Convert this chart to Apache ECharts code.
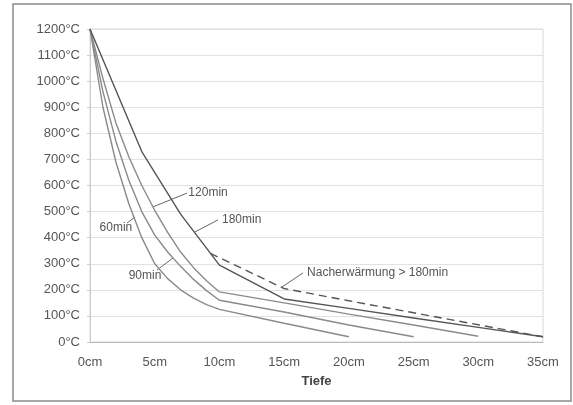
<!DOCTYPE html>
<html>
<head>
<meta charset="utf-8">
<script src="https://cdn.jsdelivr.net/npm/echarts@6/dist/echarts.min.js"></script>
<style>
  html, body { margin: 0; padding: 0; background: #fff; }
  #chart { width: 573px; height: 405px; }
</style>
</head>
<body>
<div id="chart"></div>
<script>
// Tiefe in cm, Temperatur in °C
const depth60 = [0, 1, 2, 3, 4, 5, 6, 7, 8, 9, 10, 15, 20];
const temp60 = [1200, 900, 690, 530, 400, 300, 243, 200, 168, 143, 125, 72, 20];
const depth90 = [0, 1, 2, 3, 4, 5, 6, 7, 8, 9, 10, 15, 20, 25];
const temp90 = [1200, 960, 770, 620, 500, 410, 345, 290, 240, 197, 160, 115, 65, 20];
const depth120 = [0, 1, 2, 3, 4, 5, 6, 7, 8, 9, 10, 15, 20, 25, 30];
const temp120 = [1200, 1010, 840, 710, 600, 505, 420, 345, 285, 235, 192, 150, 107, 65, 22];
const depth180 = [0, 4, 7, 10, 15, 20, 25, 30, 35];
const temp180 = [1200, 730, 490, 295, 165, 129, 92, 56, 20];
const depthNach = [9.3, 15, 20, 25, 30, 35];
const tempNach = [340, 205, 158, 112, 66, 20];

const xTicks = ['0cm', '5cm', '10cm', '15cm', '20cm', '25cm', '30cm', '35cm'];

// Beschriftungen: Text, Textanker [cm, °C], Hinweislinie von/bis
const notes = [
    { text: '60min', at: [2.0, 437], align: 'center', from: [2.86, 456], to: [3.48, 479] },
    { text: '90min', at: [4.25, 253], align: 'center', from: [5.18, 276], to: [6.41, 322] },
    { text: '120min', at: [7.6, 571], align: 'left', from: [7.5, 571], to: [4.87, 518] },
    { text: '180min', at: [10.2, 468], align: 'left', from: [9.89, 468], to: [8.11, 422] },
    { text: 'Nacherwärmung > 180min', at: [16.77, 265], align: 'left', from: [16.46, 265], to: [14.84, 211] }
];

function pairs(xs, ys) {
    return xs.map((x, i) => [x, ys[i]]);
}

const chart = echarts.init(document.getElementById('chart'));

function lineSeries(name, xs, ys, color, dashed) {
    return {
        name: name,
        type: 'line',
        data: pairs(xs, ys),
        symbol: 'none',
        smooth: false,
        silent: true,
        lineStyle: {
            color: color,
            width: 1.4,
            type: dashed ? [8, 5] : 'solid'
        }
    };
}

chart.setOption({
    animation: false,
    backgroundColor: '#fff',
    textStyle: { fontFamily: 'Liberation Sans, Arial, sans-serif' },
    grid: {
        left: 90, right: 30, top: 29, bottom: 63,
        show: true, borderColor: '#d8d8d8', borderWidth: 1
    },
    xAxis: {
        type: 'value',
        min: 0, max: 35, interval: 5,
        name: 'Tiefe',
        nameLocation: 'middle',
        nameGap: 33,
        nameTextStyle: { fontSize: 13, fontWeight: 'bold', color: '#444' },
        axisLine: { show: true, lineStyle: { color: '#bbb' } },
        axisTick: { show: false },
        splitLine: { show: false },
        axisLabel: {
            margin: 14, fontSize: 13, color: '#555',
            formatter: v => xTicks[Math.round(v / 5)]
        }
    },
    yAxis: {
        type: 'value',
        min: 0, max: 1200, interval: 100,
        axisLine: { show: true, lineStyle: { color: '#ccc' } },
        axisTick: { show: true, length: 3, lineStyle: { color: '#ccc' } },
        splitLine: { lineStyle: { color: '#e2e2e2' } },
        axisLabel: {
            margin: 10, fontSize: 13, color: '#555',
            formatter: v => v + '°C'
        }
    },
    series: [
        lineSeries('60min', depth60, temp60, '#8a8a8a'),
        lineSeries('90min', depth90, temp90, '#8a8a8a'),
        lineSeries('120min', depth120, temp120, '#8a8a8a'),
        lineSeries('180min', depth180, temp180, '#555'),
        lineSeries('Nacherwärmung > 180min', depthNach, tempNach, '#555', true)
    ]
});

// Beschriftungen und Hinweislinien auf Pixel umrechnen
const graphics = [{
    type: 'rect',
    shape: { x: 13, y: 4, width: 558, height: 397 },
    style: { fill: null, stroke: '#8a8a8a', lineWidth: 1.5 },
    silent: true
}];
notes.forEach(n => {
    const p = chart.convertToPixel({ gridIndex: 0 }, n.at);
    const a = chart.convertToPixel({ gridIndex: 0 }, n.from);
    const b = chart.convertToPixel({ gridIndex: 0 }, n.to);
    graphics.push({
        type: 'line',
        shape: { x1: a[0], y1: a[1], x2: b[0], y2: b[1] },
        style: { stroke: '#666', lineWidth: 1 },
        silent: true
    });
    graphics.push({
        type: 'text',
        x: p[0], y: p[1],
        style: {
            text: n.text,
            fontSize: 12,
            fontFamily: 'Liberation Sans, Arial, sans-serif',
            fill: '#555',
            align: n.align,
            verticalAlign: 'middle'
        },
        silent: true
    });
});
chart.setOption({ graphic: graphics });
</script>
</body>
</html>
